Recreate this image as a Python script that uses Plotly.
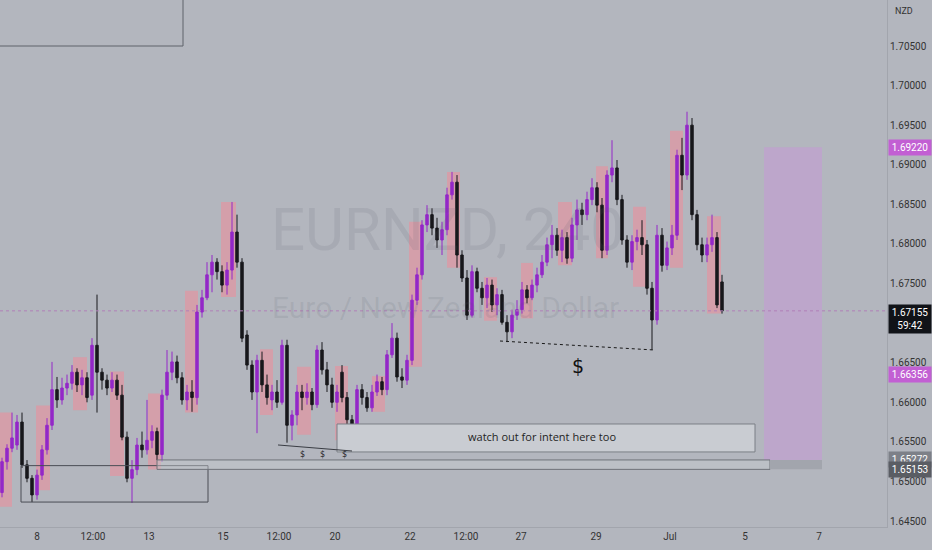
import plotly.graph_objects as go

# ---------------- data ----------------
bar_index = list(range(145))

opens = [1.6486,1.6525,1.6542,1.6546,1.6575,1.6521,1.6504,1.6483,1.6508,1.6540,
         1.6571,1.6616,1.6603,1.6618,1.6624,1.6638,1.6622,1.6631,1.6609,1.6672,
         1.6638,1.6628,1.6618,1.6628,1.6609,1.6556,1.6504,1.6515,1.6546,1.6540,
         1.6552,1.6563,1.6534,1.6609,1.6638,1.6651,1.6631,1.6603,1.6613,1.6606,
         1.6714,1.6732,1.6761,1.6777,1.6765,1.6748,1.6767,1.6815,1.6777,1.6685,
         1.6647,1.6613,1.6653,1.6622,1.6603,1.6613,1.6600,1.6672,1.6571,1.6584,
         1.6613,1.6606,1.6613,1.6597,1.6666,1.6641,1.6622,1.6600,1.6638,1.6606,
         1.6578,1.6568,1.6616,1.6606,1.6593,1.6613,1.6626,1.6616,1.6660,1.6681,
         1.6632,1.6628,1.6653,1.6729,1.6761,1.6824,1.6837,1.6820,1.6805,1.6818,
         1.6862,1.6878,1.6786,1.6757,1.6710,1.6765,1.6744,1.6732,1.6748,1.6723,
         1.6736,1.6701,1.6689,1.6710,1.6717,1.6742,1.6732,1.6748,1.6761,1.6777,
         1.6799,1.6811,1.6792,1.6808,1.6782,1.6824,1.6843,1.6837,1.6856,1.6871,
         1.6849,1.6792,1.6887,1.6896,1.6856,1.6805,1.6777,1.6803,1.6808,1.6799,
         1.6744,1.6704,1.6811,1.6773,1.6795,1.6811,1.6912,1.6887,1.6950,1.6837,
         1.6799,1.6786,1.6799,1.6808,1.6752]
highs = [1.6530,1.6547,1.6587,1.6584,1.6587,1.6527,1.6508,1.6515,1.6546,1.6580,
         1.6651,1.6632,1.6631,1.6635,1.6647,1.6643,1.6641,1.6638,1.6681,1.6736,
         1.6643,1.6635,1.6638,1.6635,1.6622,1.6563,1.6527,1.6555,1.6563,1.6603,
         1.6571,1.6568,1.6616,1.6666,1.6664,1.6659,1.6638,1.6622,1.6628,1.6723,
         1.6742,1.6777,1.6786,1.6782,1.6773,1.6777,1.6853,1.6837,1.6782,1.6691,
         1.6653,1.6660,1.6664,1.6635,1.6622,1.6628,1.6679,1.6679,1.6590,1.6622,
         1.6622,1.6624,1.6618,1.6672,1.6676,1.6651,1.6631,1.6622,1.6647,1.6613,
         1.6584,1.6622,1.6623,1.6613,1.6622,1.6635,1.6632,1.6666,1.6700,1.6688,
         1.6643,1.6660,1.6736,1.6770,1.6830,1.6849,1.6845,1.6833,1.6828,1.6871,
         1.6891,1.6887,1.6792,1.6767,1.6773,1.6770,1.6752,1.6757,1.6755,1.6744,
         1.6742,1.6710,1.6717,1.6729,1.6752,1.6748,1.6755,1.6770,1.6786,1.6808,
         1.6824,1.6820,1.6818,1.6815,1.6833,1.6856,1.6852,1.6866,1.6883,1.6878,
         1.6858,1.6893,1.6931,1.6906,1.6862,1.6811,1.6811,1.6818,1.6830,1.6805,
         1.6752,1.6824,1.6820,1.6803,1.6824,1.6919,1.6934,1.6967,1.6959,1.6843,
         1.6808,1.6808,1.6837,1.6815,1.6761]
lows = [1.6480,1.6515,1.6537,1.6540,1.6517,1.6499,1.6474,1.6477,1.6502,1.6534,
        1.6565,1.6593,1.6597,1.6609,1.6616,1.6613,1.6609,1.6600,1.6603,1.6587,
        1.6616,1.6609,1.6613,1.6603,1.6552,1.6499,1.6473,1.6508,1.6530,1.6534,
        1.6542,1.6527,1.6525,1.6603,1.6628,1.6624,1.6597,1.6590,1.6588,1.6597,
        1.6707,1.6729,1.6739,1.6755,1.6739,1.6736,1.6755,1.6770,1.6676,1.6641,
        1.6603,1.6561,1.6613,1.6597,1.6590,1.6593,1.6597,1.6549,1.6552,1.6571,
        1.6590,1.6597,1.6590,1.6593,1.6635,1.6613,1.6593,1.6588,1.6600,1.6571,
        1.6544,1.6563,1.6597,1.6588,1.6588,1.6608,1.6609,1.6609,1.6656,1.6626,
        1.6618,1.6622,1.6647,1.6723,1.6755,1.6815,1.6811,1.6795,1.6786,1.6811,
        1.6856,1.6770,1.6752,1.6704,1.6707,1.6739,1.6723,1.6719,1.6714,1.6710,
        1.6698,1.6676,1.6681,1.6704,1.6712,1.6725,1.6729,1.6739,1.6757,1.6772,
        1.6782,1.6785,1.6777,1.6775,1.6777,1.6805,1.6824,1.6830,1.6849,1.6840,
        1.6782,1.6786,1.6878,1.6849,1.6799,1.6770,1.6767,1.6792,1.6786,1.6736,
        1.6666,1.6698,1.6765,1.6767,1.6786,1.6805,1.6868,1.6881,1.6830,1.6792,
        1.6777,1.6777,1.6790,1.6719,1.6712]
closes = [1.6525,1.6542,1.6555,1.6575,1.6521,1.6504,1.6483,1.6508,1.6540,1.6571,
          1.6616,1.6603,1.6618,1.6624,1.6638,1.6622,1.6631,1.6606,1.6672,1.6638,
          1.6628,1.6618,1.6628,1.6609,1.6556,1.6504,1.6515,1.6546,1.6540,1.6552,
          1.6563,1.6534,1.6609,1.6638,1.6651,1.6631,1.6603,1.6613,1.6606,1.6714,
          1.6732,1.6761,1.6777,1.6765,1.6748,1.6767,1.6815,1.6777,1.6681,1.6647,
          1.6613,1.6653,1.6622,1.6606,1.6613,1.6600,1.6672,1.6571,1.6584,1.6613,
          1.6606,1.6613,1.6597,1.6666,1.6641,1.6622,1.6600,1.6613,1.6606,1.6578,
          1.6568,1.6616,1.6606,1.6593,1.6613,1.6626,1.6616,1.6660,1.6681,1.6632,
          1.6628,1.6653,1.6729,1.6761,1.6824,1.6837,1.6820,1.6805,1.6818,1.6862,
          1.6878,1.6786,1.6757,1.6710,1.6765,1.6744,1.6732,1.6748,1.6723,1.6736,
          1.6701,1.6689,1.6710,1.6717,1.6742,1.6732,1.6748,1.6761,1.6777,1.6799,
          1.6811,1.6792,1.6808,1.6782,1.6824,1.6843,1.6837,1.6856,1.6871,1.6849,
          1.6792,1.6887,1.6896,1.6856,1.6805,1.6777,1.6803,1.6808,1.6799,1.6744,
          1.6704,1.6811,1.6773,1.6795,1.6811,1.6912,1.6887,1.6950,1.6837,1.6799,
          1.6786,1.6799,1.6808,1.6723,1.67155]

tick_pos = [7, 18.2, 29.4, 44.2, 55.4, 66.6, 81.6, 92.8, 103.8, 118.8, 133.6, 148.6, 163.4]
tick_text = ["8", "12:00", "13", "15", "12:00", "20", "22", "12:00", "27", "29", "Jul", "5", "7"]
# 1.67000 is hidden behind the live-price badge in the reference
price_ticks = [1.645, 1.650, 1.655, 1.660, 1.665, 1.675, 1.680, 1.685, 1.690, 1.695, 1.700, 1.705]

# highlighted candle zones: (first bar, last bar, top price, bottom price)
pink_zones = [
    (-0.4, 2.0, 1.6587, 1.6468), (6.8, 9.6, 1.6596, 1.6489), (14.2, 17.0, 1.6657, 1.6590),
    (21.6, 24.4, 1.6639, 1.6507), (29.2, 31.8, 1.6611, 1.6515), (36.6, 39.2, 1.6741, 1.6587),
    (43.8, 46.8, 1.6853, 1.6733), (51.6, 54.2, 1.6667, 1.6584), (59.0, 61.8, 1.6645, 1.6559),
    (66.6, 69.2, 1.6646, 1.6552), (74.0, 76.6, 1.6633, 1.6588), (81.4, 84.0, 1.6828, 1.6645),
    (89.0, 91.6, 1.6891, 1.6770), (96.4, 99.0, 1.6758, 1.6703), (103.8, 106.2, 1.6776, 1.6706),
    (111.2, 114.0, 1.6853, 1.6773), (118.8, 121.2, 1.6898, 1.6782), (126.2, 128.8, 1.6847, 1.6746),
    (133.6, 136.2, 1.6943, 1.6770), (141.0, 143.8, 1.6835, 1.6712),
]

last_price = 1.67155
target_high = 1.69220
target_mid = 1.66356
zone_top = 1.65272
zone_bottom = 1.65153

BG = "#b3b6be"
PURPLE = "#9428c8"
BLACK = "#18181c"

fig = go.Figure()
fig.add_trace(go.Candlestick(
    x=bar_index, open=opens, high=highs, low=lows, close=closes,
    increasing=dict(line=dict(color=PURPLE, width=1), fillcolor=PURPLE),
    decreasing=dict(line=dict(color=BLACK, width=1), fillcolor=BLACK),
    whiskerwidth=0, showlegend=False, hoverinfo="skip",
))

shapes = []
for x0, x1, top, bot in pink_zones:
    shapes.append(dict(type="rect", xref="x", yref="y", x0=x0, x1=x1, y0=bot, y1=top,
                       fillcolor="rgba(245,135,150,0.5)", line=dict(width=0), layer="below"))

# purple target box
shapes.append(dict(type="rect", xref="x", yref="y", x0=152.4, x1=164, y0=zone_top, y1=target_high,
                   fillcolor="rgba(200,150,215,0.5)", line=dict(width=0), layer="below"))
# top-left box
shapes.append(dict(type="rect", xref="x", yref="y", x0=-2, x1=36.2, y0=1.7050, y1=1.7200,
                   fillcolor="rgba(0,0,0,0)", line=dict(color="#5f626a", width=1), layer="above"))
# bottom-left box
shapes.append(dict(type="rect", xref="x", yref="y", x0=3.8, x1=41.2, y0=1.6474, y1=1.6520,
                   fillcolor="rgba(0,0,0,0)", line=dict(color="#4a4d55", width=1), layer="above"))
# long zone bar
shapes.append(dict(type="rect", xref="x", yref="y", x0=31, x1=153.6, y0=zone_bottom, y1=zone_top,
                   fillcolor="rgba(200,203,209,0.45)", line=dict(color="#6f7279", width=1), layer="above"))
shapes.append(dict(type="rect", xref="x", yref="y", x0=153.6, x1=164, y0=zone_bottom, y1=zone_top,
                   fillcolor="#a2a5ad", line=dict(width=0), layer="above"))
# watch-out box
shapes.append(dict(type="rect", xref="x", yref="y", x0=67, x1=150.6, y0=1.65373, y1=1.65726,
                   fillcolor="#c9ccd2", line=dict(color="#7b7f86", width=1), layer="above"))
# dotted liquidity line
shapes.append(dict(type="line", xref="x", yref="y", x0=99.6, x1=130.6, y0=1.66774, y1=1.6666,
                   line=dict(color="#1a1a1a", width=1, dash="dot"), layer="above"))
# small equal-lows line
shapes.append(dict(type="line", xref="x", yref="y", x0=55.2, x1=70, y0=1.65461, y1=1.65385,
                   line=dict(color="#3a3d44", width=1), layer="above"))
# current price line
shapes.append(dict(type="line", xref="paper", yref="y", x0=0, x1=1, y0=last_price, y1=last_price,
                   line=dict(color="#b07fb8", width=1, dash="dot"), layer="above"))

annotations = [
    dict(text="EURNZD, 240", x=0.505, xref="paper", y=1.6818, yref="y", showarrow=False,
         font=dict(family="Roboto", size=60, color="rgba(90,94,106,0.13)")),
    dict(text="Euro / New Zealand Dollar", x=0.502, xref="paper", y=1.6720, yref="y", showarrow=False,
         font=dict(family="Roboto", size=30, color="rgba(90,94,106,0.13)")),
    dict(text="watch out for intent here too", x=108, y=1.65565, xref="x", yref="y", showarrow=False,
         font=dict(family="Open Sans", size=11, color="#1f1f1f")),
    dict(text="$", x=115.2, y=1.66458, xref="x", yref="y", showarrow=False,
         font=dict(family="DejaVu Sans", size=19, color="#111111")),
]
for xs in (60, 64, 68.4):
    annotations.append(dict(text="$", x=xs, y=1.6534, xref="x", yref="y", showarrow=False,
                            font=dict(family="DejaVu Sans", size=8, color="#222222")))

def badge(price, text, bg, yshift=0, yanchor="middle"):
    return dict(text=text, x=1, xref="paper", xanchor="left", xshift=1, y=price, yref="y",
                yanchor=yanchor, yshift=yshift, showarrow=False, bgcolor=bg, borderpad=2,
                width=38, align="center", font=dict(family="Roboto", size=10, color="white"))

annotations += [
    badge(target_high, "1.69220", "#c25fd3"),
    badge(last_price, "1.67155<br>59:42", "#111318", yshift=7, yanchor="top"),
    badge(target_mid, "1.66356", "#c25fd3"),
    badge(zone_top, "1.65272", "#7d8088"),
    badge(zone_bottom, "1.65153", "#5a5d64"),
    dict(text="NZD", x=1, xref="paper", xanchor="left", xshift=6, y=1, yref="paper", yanchor="middle",
         yshift=-11, showarrow=False, font=dict(family="Roboto", size=9, color="#333333")),
]

fig.update_layout(
    width=932, height=550,
    margin=dict(l=0, r=45, t=0, b=23, pad=0, autoexpand=False),
    paper_bgcolor=BG, plot_bgcolor=BG,
    shapes=shapes, annotations=annotations,
    showlegend=False, hovermode=False,
    font=dict(family="Roboto", size=10, color="#333333"),
    xaxis=dict(range=[-0.4, 177], rangeslider=dict(visible=False), showgrid=False, zeroline=False,
               tickmode="array", tickvals=tick_pos, ticktext=tick_text, ticks="",
               showline=True, linecolor="#a2a5ad", linewidth=1, automargin=False,
               tickfont=dict(family="Roboto", size=10, color="#333333")),
    yaxis=dict(range=[1.64425, 1.71081], side="right", showgrid=False, zeroline=False,
               tickmode="array", tickvals=price_ticks, tickformat=".5f", ticks="",
               showline=True, linecolor="#a2a5ad", linewidth=1, automargin=False,
               tickfont=dict(family="Roboto", size=10, color="#333333")),
)

fig.write_html("out.html", config={"displayModeBar": False},
               post_script="document.body.style.margin='0px';document.body.style.background='%s';" % BG)
